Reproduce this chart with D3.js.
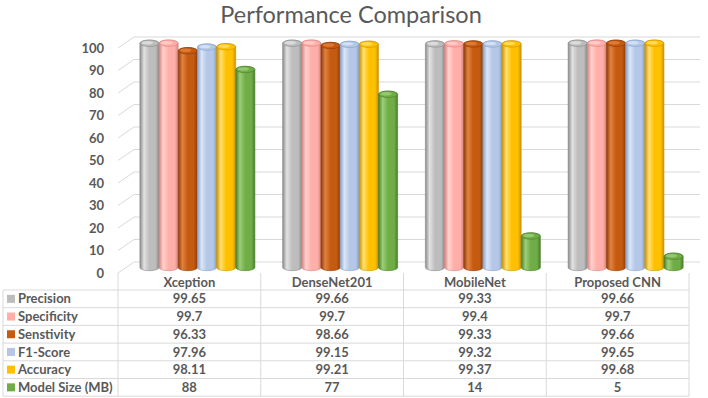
<!DOCTYPE html>
<html>
<head>
<meta charset="utf-8">
<script src="https://cdn.jsdelivr.net/npm/d3@7"></script>
<style>
  html, body { margin: 0; padding: 0; background: #fff; }
  svg { display: block; font-family: Lato, "Open Sans", sans-serif; }
</style>
</head>
<body>
<svg id="chart" width="708" height="398"></svg>
<script>
const models = ["Xception", "DenseNet201", "MobileNet", "Proposed CNN"];
const metrics = ["Precision", "Specificity", "Senstivity", "F1-Score", "Accuracy", "Model Size (MB)"];

const precision   = [99.65, 99.66, 99.33, 99.66];
const specificity = [99.7, 99.7, 99.4, 99.7];
const senstivity  = [96.33, 98.66, 99.33, 99.66];
const f1Score     = [97.96, 99.15, 99.32, 99.65];
const accuracy    = [98.11, 99.21, 99.37, 99.68];
const modelSize   = [88, 77, 14, 5];

const yTicks = [0, 10, 20, 30, 40, 50, 60, 70, 80, 90, 100];

const series = [precision, specificity, senstivity, f1Score, accuracy, modelSize];

// base / light / dark for the cylinder shading
const colors = [
    ["#bdbdbd", "#e2e2e2", "#8a8a8a"],
    ["#ffaea9", "#ffd2ce", "#d8847f"],
    ["#c55a11", "#e2823f", "#8c3d08"],
    ["#b4c7e7", "#dbe6f7", "#869fc9"],
    ["#ffc000", "#ffe070", "#c99400"],
    ["#70ad47", "#9ccf78", "#4a7d2b"]
];

const svg = d3.select("#chart");
const textColor = "#595959";
const gridColor = "#d9d9d9";

// 3d depth: back wall offset and bar (mid depth) offset
const depth = {dx: 16, dy: -11};
const mid = {dx: 8, dy: -5.5};

const tableLeft = 3, tableX = 118, tableRight = 689;
const headerTop = 273, headerBottom = 290, rowH = 17.7;

const x0 = d3.scaleBand()
    .domain(models)
    .range([tableX, tableRight]);

const groupW = 115;
const x1 = d3.scaleBand()
    .domain(metrics)
    .range([0, groupW]);

const y = d3.scaleLinear()
    .domain([0, 100])
    .range([273, 48]);

// gradients
const defs = svg.append("defs");
colors.forEach((c, i) => {
    const g = defs.append("linearGradient")
        .attr("id", "cyl" + i)
        .attr("x1", "0%").attr("x2", "100%")
        .attr("y1", "0%").attr("y2", "0%");
    g.append("stop").attr("offset", "0%").attr("stop-color", c[2]);
    g.append("stop").attr("offset", "22%").attr("stop-color", c[1]);
    g.append("stop").attr("offset", "50%").attr("stop-color", c[0]);
    g.append("stop").attr("offset", "82%").attr("stop-color", c[0]);
    g.append("stop").attr("offset", "100%").attr("stop-color", c[2]);
});

// title
svg.append("text")
    .attr("x", 351)
    .attr("y", 23)
    .attr("text-anchor", "middle")
    .style("font-size", "23.5px")
    .style("fill", textColor)
    .text("Performance Comparison");

// gridlines (side wall + back wall)
svg.append("g")
    .selectAll("path")
    .data(yTicks)
    .join("path")
    .attr("d", d => `M${tableX},${y(d)} L${tableX + depth.dx},${y(d) + depth.dy} L700,${y(d) + depth.dy}`)
    .attr("fill", "none")
    .attr("stroke", gridColor)
    .attr("stroke-width", 1);

// y axis
const yAxis = svg.append("g")
    .attr("transform", "translate(104,0)")
    .call(d3.axisLeft(y).tickValues(yTicks).tickSize(0).tickPadding(0));
yAxis.select(".domain").remove();
yAxis.selectAll("text")
    .style("font-size", "13px")
    .style("font-weight", "bold")
    .style("font-family", "Lato, sans-serif")
    .style("fill", textColor);

// bars as cylinders
const bars = [];
models.forEach((m, mi) => {
    series.forEach((s, si) => {
        bars.push({model: m, metric: metrics[si], value: s[mi], idx: si});
    });
});

const barW = x1.bandwidth();
const rx = barW / 2, ry = 3.2;
const left = d => x0(d.model) + (x0.bandwidth() - groupW) / 2 + x1(d.metric) + mid.dx;
const bottom = y(0) + mid.dy;

const barG = svg.append("g").selectAll("g")
    .data(bars)
    .join("g");

barG.append("path")
    .attr("d", d => {
        const xl = left(d), top = y(d.value) + mid.dy;
        return `M${xl},${top} L${xl},${bottom} A${rx},${ry} 0 0 0 ${xl + barW},${bottom} L${xl + barW},${top} A${rx},${ry} 0 0 0 ${xl},${top} Z`;
    })
    .attr("fill", d => `url(#cyl${d.idx})`)
    .attr("stroke", d => colors[d.idx][2])
    .attr("stroke-width", 0.6);

barG.append("ellipse")
    .attr("cx", d => left(d) + rx)
    .attr("cy", d => y(d.value) + mid.dy)
    .attr("rx", rx - 0.3)
    .attr("ry", ry)
    .attr("fill", d => colors[d.idx][0])
    .attr("stroke", d => colors[d.idx][2])
    .attr("stroke-width", 0.6);

barG.append("ellipse")
    .attr("cx", d => left(d) + rx - 2)
    .attr("cy", d => y(d.value) + mid.dy - 0.5)
    .attr("rx", rx - 4)
    .attr("ry", ry - 1.5)
    .attr("fill", d => colors[d.idx][1])
    .attr("opacity", 0.8);

// data table
const table = svg.append("g");
const rowTop = i => headerBottom + i * rowH;
const tableBottom = rowTop(metrics.length);

// horizontal lines
table.selectAll("line.h")
    .data(d3.range(metrics.length + 1))
    .join("line")
    .attr("class", "h")
    .attr("x1", tableLeft).attr("x2", tableRight)
    .attr("y1", d => rowTop(d)).attr("y2", d => rowTop(d))
    .attr("stroke", gridColor);

// vertical lines
const colEdges = models.map(m => x0(m)).concat([tableRight]);
table.selectAll("line.v")
    .data(colEdges)
    .join("line")
    .attr("class", "v")
    .attr("x1", d => d).attr("x2", d => d)
    .attr("y1", headerTop).attr("y2", tableBottom)
    .attr("stroke", gridColor);

table.append("line")
    .attr("x1", tableLeft).attr("x2", tableLeft)
    .attr("y1", headerBottom).attr("y2", tableBottom)
    .attr("stroke", gridColor);

// header
table.selectAll("text.head")
    .data(models)
    .join("text")
    .attr("class", "head")
    .attr("x", d => x0(d) + x0.bandwidth() / 2)
    .attr("y", (headerTop + headerBottom) / 2 + 1)
    .attr("dy", "0.35em")
    .attr("text-anchor", "middle")
    .style("font-size", "13px")
    .style("font-weight", "bold")
    .style("fill", textColor)
    .text(d => d);

// legend keys + labels
const rows = table.selectAll("g.row")
    .data(metrics)
    .join("g")
    .attr("class", "row")
    .attr("transform", (d, i) => `translate(0,${rowTop(i) + rowH / 2})`);

rows.append("rect")
    .attr("x", 7)
    .attr("y", -4)
    .attr("width", 8)
    .attr("height", 8)
    .attr("fill", (d, i) => colors[i][0]);

rows.append("text")
    .attr("x", 18)
    .attr("dy", "0.35em")
    .style("font-size", "13px")
    .style("font-weight", "bold")
    .style("fill", textColor)
    .text(d => d);

rows.selectAll("text.val")
    .data((d, i) => series[i].map((v, j) => ({v: v, model: models[j]})))
    .join("text")
    .attr("class", "val")
    .attr("x", d => x0(d.model) + x0.bandwidth() / 2)
    .attr("dy", "0.35em")
    .attr("text-anchor", "middle")
    .style("font-size", "13px")
    .style("font-weight", "bold")
    .style("fill", textColor)
    .text(d => d.v);
</script>
</body>
</html>
